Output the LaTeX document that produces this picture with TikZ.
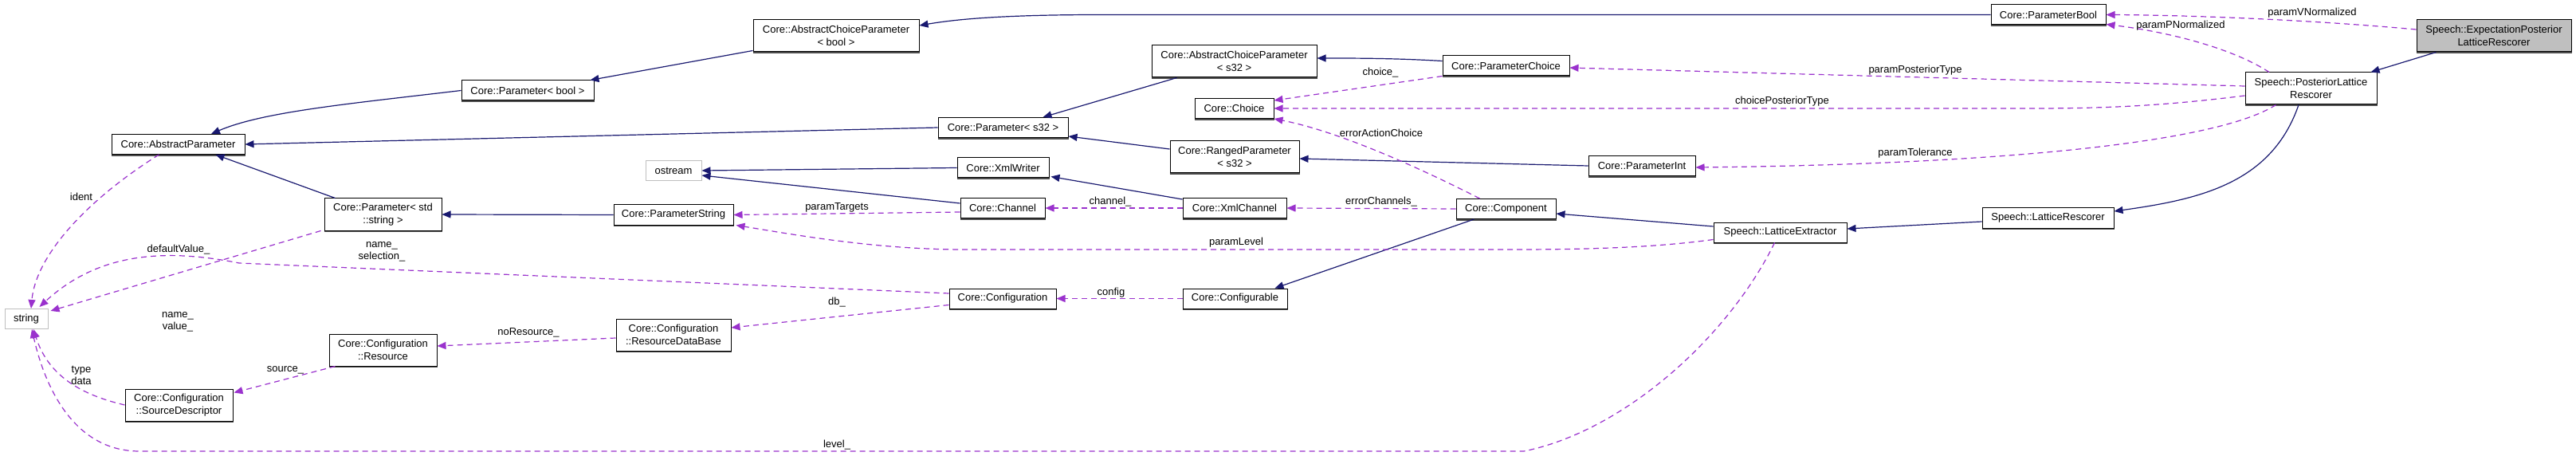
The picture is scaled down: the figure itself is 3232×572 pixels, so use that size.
\documentclass[tikz,border=0pt]{standalone}
\usepackage{fontspec}
\setmainfont{Liberation Sans}
\usetikzlibrary{arrows.meta,calc}
\definecolor{inhc}{HTML}{191970}
\definecolor{usec}{HTML}{9A32CD}
\definecolor{grayb}{HTML}{BFBFBF}
\begin{document}
\begin{tikzpicture}[x=1pt,y=-1pt,
  box/.style={draw=black,line width=1pt,fill=white,inner sep=0pt,align=center,
    font=\fontsize{13}{15.5}\selectfont,minimum height=25pt},
  gbox/.style={box,draw=grayb},
  lbl/.style={inner sep=0pt,align=center,font=\fontsize{13}{15}\selectfont},
  shadowline/.style={draw=black!70,line width=1.6pt},
  inh/.style={draw=inhc,line width=1.2pt,-{Triangle[length=11pt,width=9pt]}},
  use/.style={draw=usec,line width=1.2pt,dash pattern=on 7pt off 5pt,-{Triangle[length=11pt,width=9pt]}}]
\useasboundingbox (0,0) rectangle (3232,572);
\fill[white] (0,0) rectangle (3232,572);
% nodes
\node[box,minimum width=208pt,minimum height=40pt] (acpbool) at (1049,45) {Core::AbstractChoiceParameter\\< bool >};
\node[box,minimum width=166pt] (pbool) at (662,113.5) {Core::Parameter< bool >};
\node[box,minimum width=167pt] (absparam) at (223.5,181) {Core::AbstractParameter};
\node[gbox,minimum width=70pt] (ostream) at (845,214) {ostream};
\node[box,minimum width=147pt,minimum height=40pt] (pstring) at (480.5,269) {Core::Parameter< std\\::string >};
\node[box,minimum width=150pt] (paramstring) at (845,269.5) {Core::ParameterString};
\node[box,minimum width=207pt,minimum height=40pt] (acps32) at (1548.5,77) {Core::AbstractChoiceParameter\\< s32 >};
\node[box,minimum width=159pt] (pchoice) at (1889.5,82.5) {Core::ParameterChoice};
\node[box,minimum width=99pt] (choice) at (1548.5,136) {Core::Choice};
\node[box,minimum width=163pt] (ps32) at (1258.5,160) {Core::Parameter< s32 >};
\node[box,minimum width=162pt,minimum height=40pt] (ranged) at (1549,197) {Core::RangedParameter\\< s32 >};
\node[box,minimum width=115pt] (xmlwriter) at (1258.5,210.5) {Core::XmlWriter};
\node[box,minimum width=106pt] (channel) at (1258,261) {Core::Channel};
\node[box,minimum width=130pt] (xmlchannel) at (1549,261) {Core::XmlChannel};
\node[box,minimum width=125pt] (component) at (1889.5,262) {Core::Component};
\node[box,minimum width=134pt] (pint) at (2060,208) {Core::ParameterInt};
\node[box,minimum width=144pt] (pbool2) at (2570,18.5) {Core::ParameterBool};
\node[box,fill=grayb,minimum width=194pt,minimum height=40pt] (eplr) at (3129,45) {Speech::ExpectationPosterior\\LatticeRescorer};
\node[box,minimum width=165pt,minimum height=40pt] (plr) at (2899.5,111) {Speech::PosteriorLattice\\Rescorer};
\node[box,minimum width=165pt] (lrescorer) at (2569.5,273.5) {Speech::LatticeRescorer};
\node[box,minimum width=167pt] (lextractor) at (2233.5,291.5) {Speech::LatticeExtractor};
\node[gbox,minimum width=54pt] (string) at (33,400) {string};
\node[box,minimum width=135pt,minimum height=40pt] (resource) at (480.5,439) {Core::Configuration\\::Resource};
\node[box,minimum width=144pt,minimum height=40pt] (rdb) at (845,420) {Core::Configuration\\::ResourceDataBase};
\node[box,minimum width=135pt,minimum height=40pt] (srcdesc) at (224.5,508) {Core::Configuration\\::SourceDescriptor};
\node[box,minimum width=134pt] (configuration) at (1258,374.5) {Core::Configuration};
\node[box,minimum width=131pt] (configurable) at (1549.5,374.5) {Core::Configurable};
\foreach \n in {acpbool,pbool,absparam,pstring,paramstring,acps32,pchoice,choice,ps32,ranged,xmlwriter,channel,xmlchannel,component,pint,pbool2,eplr,plr,lrescorer,lextractor,resource,rdb,srcdesc,configuration,configurable}
  \draw[shadowline] ($(\n.south west)+(0,0.8)$) -- ($(\n.south east)+(0,0.8)$);
% inheritance edges
\draw[inh] (pbool2.west) -- (1380,18.5) .. controls (1260,18.5) and (1200,24) .. ($(acpbool.east)+(0,-13)$);
\draw[inh] ($(acpbool.south west)+(0,-2)$) -- ($(pbool.north east)+(-5,0)$);
\draw[inh] (pbool.west) .. controls (440,130) and (330,140) .. ($(absparam.north)+(41.5,0)$);
\draw[inh] (ps32.west) -- (absparam.east);
\draw[inh] ($(pstring.north west)+(14,0)$) -- ($(absparam.south)+(47,0)$);
\draw[inh] (paramstring.west) -- (pstring.east);
\draw[inh] ($(acps32.south west)+(32,0)$) -- ($(ps32.north)+(50,0)$);
\draw[inh] ($(pchoice.west)+(0,-6)$) .. controls (1750,73) and (1700,73) .. ($(acps32.east)+(0,-4)$);
\draw[inh] ($(ranged.west)+(0,-10)$) -- ($(ps32.east)+(0,11)$);
\draw[inh] (pint.west) -- ($(ranged.east)+(0,2)$);
\draw[inh] (xmlwriter.west) -- (ostream.east);
\draw[inh] ($(channel.west)+(0,-6)$) -- ($(ostream.east)+(0,6)$);
\draw[inh] ($(xmlchannel.north west)+(0,2)$) -- ($(xmlwriter.south east)+(2,-2)$);
\draw[inh] ($(lextractor.west)+(0,-7.5)$) -- ($(component.east)+(0,6)$);
\draw[inh] ($(component.south west)+(23,0)$) -- ($(configurable.north)+(50,0)$);
\draw[inh] ($(lrescorer.west)+(0,4.5)$) -- ($(lextractor.east)+(0,-4.5)$);
\draw[inh] ($(plr.south)+(-15.5,0)$) .. controls (2850,230) and (2760,250) .. ($(lrescorer.east)+(0,-8.5)$);
\draw[inh] ($(eplr.south west)+(25,0)$) -- ($(plr.north east)+(-8,0)$);
% usage edges
\draw[use] ($(eplr.west)+(0,-8)$) .. controls (2900,25) and (2750,19) .. (pbool2.east);
\draw[use] ($(plr.north)+(-52.5,0)$) .. controls (2800,60) and (2720,40) .. ($(pbool2.south east)+(0,-1)$);
\draw[use] ($(plr.west)+(0,-3)$) -- ($(pchoice.east)+(0,2.5)$);
\draw[use] ($(plr.west)+(0,9)$) .. controls (2720,132) and (2650,136) .. (2550,136) -- (choice.east);
\draw[use] ($(plr.south west)+(39,0)$) .. controls (2780,180) and (2500,206) .. ($(pint.east)+(0,2)$);
\draw[use] (pchoice.south west) -- ($(choice.north east)+(0,3)$);
\draw[use] ($(component.north west)+(30,0)$) .. controls (1780,210) and (1680,165) .. (choice.south east);
\draw[use] (component.west) -- (xmlchannel.east);
\draw[use] (xmlchannel.west) -- (channel.east);
\draw[use] ($(channel.west)+(0,5)$) -- (paramstring.east);
\draw[use] ($(lextractor.south west)+(0,-4)$) .. controls (2080,310) and (2000,313) .. (1900,313) -- (1210,313) .. controls (1100,313) and (1000,295) .. ($(paramstring.south east)+(3,0)$);
\draw[use] ($(absparam.south west)+(60,0)$) .. controls (110,250) and (45,320) .. ($(string.north)+(6,0)$);
\draw[use] ($(pstring.south west)+(-4,0)$) -- ($(string.north east)+(3,3)$);
\draw[use] ($(configuration.west)+(0,-6.5)$) -- (300,330) .. controls (200,310) and (120,320) .. ($(string.north east)+(-11,-2)$);
\draw[use] (srcdesc.west) .. controls (100,495) and (60,470) .. ($(string.south)+(9,0)$);
\draw[use] ($(resource.south west)+(8,0)$) -- ($(srcdesc.north east)+(1,5)$);
\draw[use] ($(rdb.west)+(0,4)$) -- ($(resource.east)+(0,-5)$);
\draw[use] ($(configuration.west)+(0,8)$) -- ($(rdb.east)+(0,-9)$);
\draw[use] (configurable.west) -- (configuration.east);
\draw[use] ($(lextractor.south)+(-7,0)$) .. controls (2170,420) and (2040,540) .. (1912,566) -- (175,566) .. controls (90,566) and (55,480) .. ($(string.south)+(7,0)$);
% labels
\node[lbl] (l1) at (102,247) {ident};
\node[lbl] (l2) at (1050,260) {paramTargets};
\node[lbl] (l3) at (1732,91) {choice\_};
\node[lbl] (l4) at (1733,167) {errorActionChoice};
\node[lbl] (l5) at (1393,253) {channel\_};
\node[lbl] (l6) at (1733,253) {errorChannels\_};
\node[lbl] (l7) at (2901,16) {paramVNormalized};
\node[lbl] (l8) at (2736,32) {paramPNormalized};
\node[lbl] (l9) at (2403,88) {paramPosteriorType};
\node[lbl] (l10) at (2236,127) {choicePosteriorType};
\node[lbl] (l11) at (2403,192) {paramTolerance};
\node[lbl] (l12) at (224,313) {defaultValue\_};
\node[lbl] (l13) at (479,316) {name\_\\selection\_};
\node[lbl] (l14) at (223,404) {name\_\\value\_};
\node[lbl] (l15) at (102,471) {type\\data};
\node[lbl] (l16) at (358,464) {source\_};
\node[lbl] (l17) at (663,417) {noResource\_};
\node[lbl] (l18) at (1050,379) {db\_};
\node[lbl] (l19) at (1050,558) {level\_};
\node[lbl] (l20) at (1394,367) {config};
\node[lbl] (l21) at (1551,304) {paramLevel};
\end{tikzpicture}
\end{document}
